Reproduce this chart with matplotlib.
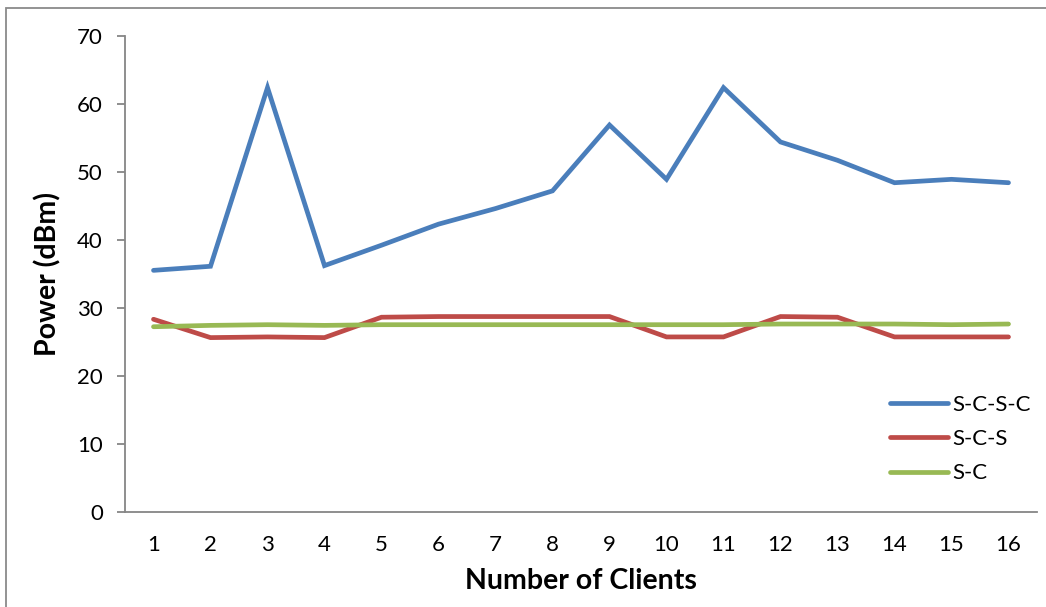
import matplotlib
matplotlib.use("Agg")
import matplotlib.pyplot as plt
from matplotlib.patches import Rectangle

clients = list(range(1, 17))
s_c_s_c = [35.5, 36.1, 62.4, 36.2, 39.2, 42.3, 44.6, 47.2, 56.9, 48.9, 62.4, 54.4, 51.7, 48.4, 48.9, 48.4]
s_c_s = [28.3, 25.6, 25.7, 25.6, 28.6, 28.7, 28.7, 28.7, 28.7, 25.7, 25.7, 28.7, 28.6, 25.7, 25.7, 25.7]
s_c = [27.2, 27.4, 27.5, 27.4, 27.5, 27.5, 27.5, 27.5, 27.5, 27.5, 27.5, 27.6, 27.6, 27.6, 27.5, 27.6]
y_ticks = [0, 10, 20, 30, 40, 50, 60, 70]

plt.rcParams['font.family'] = ['Lato', 'DejaVu Sans']

W, H = 1046, 607
fig = plt.figure(figsize=(W / 100, H / 100), dpi=100)
fig.patch.set_facecolor('white')

# chart frame
fig.patches.append(Rectangle((6 / W, -0.1), 1.2, 1 - 8 / H + 0.1, transform=fig.transFigure,
                             fill=False, edgecolor='#8a8a8a', linewidth=1.3))

ax = fig.add_axes([125 / W, 1 - 511.5 / H, (1037 - 125) / W, (511.5 - 36) / H])
lw = 3.4
ax.plot(clients, s_c_s_c, color='#4A7EBB', lw=lw, label='S-C-S-C', solid_capstyle='round', solid_joinstyle='miter')
ax.plot(clients, s_c_s, color='#BE4B48', lw=lw, label='S-C-S', solid_capstyle='round', solid_joinstyle='miter')
ax.plot(clients, s_c, color='#98B954', lw=lw, label='S-C', solid_capstyle='round', solid_joinstyle='miter')

ax.set_xlim(0.5, 16.5)
ax.set_ylim(0, 70)
ax.set_yticks(y_ticks)
ax.set_xticks(clients)
for s in ['top', 'right']:
    ax.spines[s].set_visible(False)
for s in ['left', 'bottom']:
    ax.spines[s].set_color('#868686')
    ax.spines[s].set_linewidth(1.3)
ax.tick_params(axis='y', length=6, width=1.3, color='#868686', labelsize=16, pad=10)
ax.tick_params(axis='x', length=0, labelsize=16, pad=17)
ax.set_facecolor('white')

ax.set_ylabel('Power (dBm)', fontsize=20.5, fontweight='bold', labelpad=11)
ax.set_xlabel('Number of Clients', fontsize=20.5, fontweight='bold', labelpad=9)

leg = ax.legend(loc='upper left', bbox_to_anchor=(890 / W, 1 - 395 / H), bbox_transform=fig.transFigure,
                frameon=False, fontsize=16, handlelength=2.6, handletextpad=0.2, labelspacing=0.64,
                borderaxespad=0, borderpad=0)

fig.savefig('out.png', dpi=100)
